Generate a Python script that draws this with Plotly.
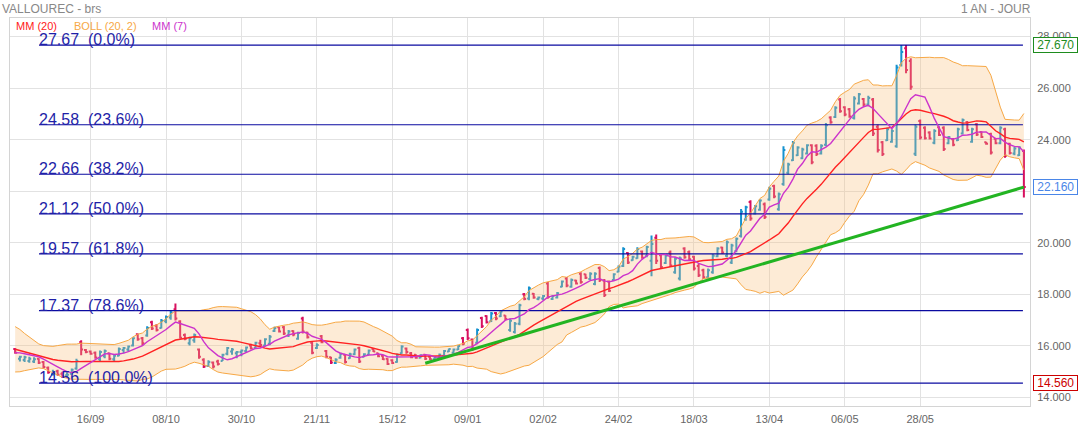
import pandas as pd
import plotly.graph_objects as go

# ---- data ----
prior_close = [16.60, 16.70, 16.55, 16.45, 16.30, 16.10, 16.00, 15.80, 15.50, 15.30,
               15.20, 15.35, 15.40, 15.60, 15.80, 15.75, 15.60, 15.80, 15.85]

open_ = [15.88, 15.50, 15.45, 15.42, 15.40, 15.50, 15.38, 15.15, 14.90, 15.02,
         14.92, 14.86, 14.92, 15.12, 16.15, 15.84, 15.78, 15.74, 15.48, 15.60,
         15.72, 15.48, 15.62, 15.84, 15.86, 16.02, 16.45, 16.30, 16.40, 16.92,
         16.78, 16.70, 16.96, 17.10, 17.42, 16.95, 16.42, 16.10, 16.22, 15.86,
         15.46, 15.22, 15.36, 15.40, 15.42, 15.70, 15.78, 15.72, 15.76, 15.80,
         16.02, 15.92, 16.10, 16.02, 16.08, 16.58, 16.72, 16.72, 16.40, 16.58,
         16.28, 17.06, 16.52, 16.12, 15.92, 16.38, 15.80, 15.56, 15.34, 15.54,
         15.66, 15.52, 15.68, 15.92, 15.58, 15.66, 15.88, 15.72, 15.62, 15.50,
         15.44, 15.38, 15.72, 15.90, 15.72, 15.66, 15.54, 15.66, 15.58, 15.48,
         15.56, 15.62, 15.78, 15.74, 15.86, 16.30, 16.62, 16.25, 16.12, 17.08,
         17.16, 16.96, 17.28, 17.15, 17.18, 16.62, 16.54, 16.86, 18.00, 17.84,
         18.02, 17.82, 17.84, 18.42, 17.82, 17.88, 18.30, 18.62, 18.30, 18.54,
         18.80, 18.78, 18.60, 18.40, 19.02, 18.54, 18.50, 18.56, 18.88, 19.10,
         19.60, 19.32, 19.40, 19.66, 19.48, 19.30, 20.20, 19.52, 19.22, 19.62,
         18.86, 18.62, 19.78, 19.64, 19.46, 19.10, 18.94, 18.66, 18.86, 19.48,
         19.82, 19.50, 19.24, 19.68, 20.26, 20.90, 21.58, 21.14, 21.28, 21.50,
         21.68, 22.20, 21.30, 22.28, 22.72, 23.20, 23.40, 23.28, 23.46, 23.78,
         23.76, 23.46, 23.80, 24.86, 24.88, 25.56, 25.26, 25.18, 24.84, 25.40,
         25.58, 25.36, 25.56, 24.50, 23.90, 23.98, 23.92, 23.75, 26.90, 27.55,
         27.05, 23.45, 24.72, 24.46, 24.28, 23.88, 24.48, 24.46, 23.86, 24.02,
         23.98, 24.24, 24.68, 23.92, 24.60, 24.30, 23.90, 24.22, 24.04, 23.86,
         24.40, 23.84, 23.46, 23.40, 23.56]

high = [15.92, 15.62, 15.62, 15.58, 15.56, 15.52, 15.42, 15.20, 15.08, 15.08,
        15.00, 14.98, 15.12, 15.50, 16.22, 15.88, 15.82, 15.78, 15.82, 15.86,
        15.74, 15.68, 15.94, 15.96, 16.02, 16.34, 16.48, 16.35, 16.76, 16.98,
        16.84, 17.04, 17.18, 17.38, 17.65, 17.00, 16.48, 16.36, 16.48, 15.90,
        15.52, 15.44, 15.40, 15.46, 15.70, 15.96, 15.92, 15.80, 15.86, 15.98,
        16.08, 16.16, 16.24, 16.30, 16.42, 16.74, 16.74, 16.77, 16.62, 16.61,
        16.55, 17.13, 16.55, 16.16, 16.10, 16.42, 15.84, 15.58, 15.52, 15.74,
        15.68, 15.74, 15.90, 15.97, 15.72, 15.86, 15.90, 15.74, 15.65, 15.52,
        15.48, 15.71, 16.03, 15.94, 15.76, 15.68, 15.68, 15.68, 15.60, 15.60,
        15.71, 15.84, 15.90, 15.90, 16.03, 16.35, 16.68, 16.29, 16.68, 17.13,
        17.19, 17.32, 17.32, 17.38, 17.19, 17.06, 16.93, 17.64, 18.05, 18.31,
        18.05, 17.92, 17.98, 18.48, 17.98, 18.09, 18.54, 18.67, 18.62, 18.57,
        18.86, 18.80, 18.86, 18.86, 19.08, 18.60, 18.54, 18.82, 19.12, 19.83,
        19.63, 19.50, 19.83, 19.70, 19.89, 20.28, 20.32, 19.57, 19.57, 19.70,
        19.44, 19.47, 19.83, 19.70, 19.50, 19.18, 18.99, 19.00, 19.57, 19.83,
        19.85, 20.09, 19.96, 20.21, 21.31, 21.44, 21.65, 21.47, 21.69, 21.56,
        22.17, 22.25, 21.95, 23.75, 23.11, 23.95, 23.75, 23.69, 23.82, 23.82,
        23.82, 23.82, 24.65, 24.91, 25.30, 25.62, 25.30, 25.23, 25.68, 25.81,
        25.62, 25.70, 25.62, 24.59, 23.95, 24.46, 24.40, 26.91, 27.67, 27.67,
        27.16, 24.59, 24.78, 24.52, 24.33, 24.40, 24.52, 24.52, 24.14, 24.07,
        24.46, 24.82, 24.72, 24.46, 24.65, 24.33, 23.92, 24.27, 24.07, 24.52,
        24.46, 23.88, 23.72, 23.75, 23.62]

low = [15.70, 15.40, 15.38, 15.35, 15.34, 15.30, 15.12, 14.92, 14.85, 14.84,
       14.76, 14.78, 14.90, 15.08, 15.64, 15.72, 15.66, 15.50, 15.40, 15.52,
       15.44, 15.40, 15.60, 15.72, 15.78, 15.98, 16.20, 16.02, 16.36, 16.62,
       16.56, 16.68, 16.88, 17.02, 16.99, 16.28, 16.22, 16.02, 16.12, 15.50,
       15.14, 15.18, 15.12, 15.24, 15.42, 15.64, 15.66, 15.52, 15.60, 15.74,
       15.86, 15.88, 15.98, 15.98, 16.03, 16.54, 16.52, 16.42, 16.35, 16.38,
       16.24, 16.48, 16.29, 15.68, 15.88, 16.10, 15.52, 15.30, 15.30, 15.50,
       15.32, 15.50, 15.64, 15.34, 15.56, 15.64, 15.76, 15.56, 15.45, 15.26,
       15.30, 15.35, 15.70, 15.70, 15.52, 15.50, 15.52, 15.45, 15.45, 15.45,
       15.54, 15.60, 15.76, 15.70, 15.84, 16.03, 16.23, 15.80, 16.07, 16.70,
       16.87, 16.93, 17.00, 17.12, 17.00, 16.55, 16.48, 16.80, 17.77, 17.77,
       17.83, 17.77, 17.77, 17.83, 17.78, 17.84, 18.28, 18.28, 18.26, 18.38,
       18.41, 18.60, 18.56, 18.35, 18.48, 17.90, 18.09, 18.54, 18.86, 19.06,
       19.18, 19.30, 19.38, 19.38, 19.44, 18.70, 19.18, 18.99, 19.18, 19.06,
       18.80, 18.54, 19.38, 19.31, 18.93, 18.67, 18.60, 18.62, 18.80, 19.44,
       19.57, 19.44, 19.18, 19.63, 20.21, 20.86, 20.86, 21.10, 21.24, 20.92,
       21.63, 21.73, 21.24, 22.21, 22.66, 23.17, 23.37, 23.24, 23.43, 23.05,
       23.37, 23.43, 23.75, 24.62, 24.84, 25.04, 24.91, 24.85, 24.78, 25.36,
       25.30, 25.30, 24.14, 23.50, 23.37, 23.95, 23.88, 23.69, 26.84, 26.58,
       25.94, 23.37, 24.01, 24.01, 24.01, 23.82, 24.14, 23.56, 23.82, 23.75,
       23.95, 24.20, 24.33, 23.88, 24.14, 24.07, 23.80, 23.43, 23.82, 23.82,
       23.30, 23.43, 23.40, 23.37, 21.76]

close = [15.74, 15.58, 15.56, 15.50, 15.48, 15.35, 15.18, 14.98, 14.95, 14.88,
         14.82, 14.88, 15.08, 15.42, 15.86, 15.76, 15.70, 15.55, 15.76, 15.80,
         15.50, 15.62, 15.88, 15.92, 15.98, 16.30, 16.26, 16.10, 16.70, 16.68,
         16.62, 16.98, 17.12, 17.30, 17.06, 16.32, 16.28, 16.30, 16.42, 15.58,
         15.20, 15.38, 15.20, 15.30, 15.66, 15.92, 15.86, 15.76, 15.82, 15.94,
         15.90, 16.12, 16.04, 16.26, 16.36, 16.70, 16.56, 16.48, 16.56, 16.44,
         16.50, 16.56, 16.34, 15.74, 16.04, 16.14, 15.58, 15.36, 15.46, 15.70,
         15.38, 15.68, 15.86, 15.40, 15.68, 15.82, 15.78, 15.60, 15.48, 15.30,
         15.34, 15.66, 15.98, 15.76, 15.56, 15.54, 15.64, 15.50, 15.48, 15.56,
         15.66, 15.80, 15.88, 15.86, 16.00, 16.08, 16.30, 15.90, 16.62, 16.76,
         16.92, 17.26, 17.06, 17.34, 17.04, 16.98, 16.86, 17.58, 17.82, 18.24,
         17.88, 17.88, 17.94, 17.90, 17.94, 18.04, 18.50, 18.34, 18.56, 18.42,
         18.48, 18.64, 18.80, 18.80, 18.56, 17.98, 18.14, 18.78, 19.08, 19.76,
         19.24, 19.46, 19.76, 19.42, 19.84, 19.95, 19.30, 19.06, 19.50, 19.12,
         19.38, 19.40, 19.44, 19.36, 19.00, 18.74, 18.66, 18.94, 19.50, 19.78,
         19.62, 20.02, 19.90, 20.16, 21.20, 21.38, 20.94, 21.42, 21.64, 21.00,
         22.10, 21.80, 21.88, 23.60, 23.04, 23.88, 23.70, 23.62, 23.78, 23.12,
         23.44, 23.76, 24.56, 24.68, 25.24, 25.10, 24.98, 24.90, 25.60, 25.76,
         25.36, 25.62, 24.24, 23.60, 23.44, 24.40, 24.34, 26.80, 27.40, 26.70,
         26.05, 24.50, 24.08, 24.06, 24.05, 24.34, 24.18, 23.64, 24.10, 23.80,
         24.40, 24.76, 24.38, 24.40, 24.20, 24.10, 23.84, 23.50, 23.86, 24.46,
         23.38, 23.48, 23.66, 23.70, 22.16]

tick_index = [16, 32, 48, 64, 80, 96, 112, 128, 144, 160, 176, 192]
tick_labels = ["16/09", "08/10", "30/10", "21/11", "15/12", "09/01",
               "02/02", "24/02", "18/03", "13/04", "06/05", "28/05"]
y_ticks = [14, 16, 18, 20, 22, 24, 26, 28]

fib_levels = [27.67, 24.58, 22.66, 21.12, 19.57, 17.37, 14.56]
fib_pcts = ["0.0%", "23.6%", "38.2%", "50.0%", "61.8%", "78.6%", "100.0%"]
fib_span = [5.05, 213.8]

trend_x = [87, 214]
trend_y = [15.33, 22.16]

price_boxes = [27.67, 22.16, 14.56]
price_box_colors = ["#1e8c1e", "#4a86e8", "#cc0000"]

# ---- indicators ----
idx = list(range(len(close)))
k = len(prior_close)
s = pd.Series(prior_close + close)
m20 = s.rolling(20).mean()
sd20 = s.rolling(20).std(ddof=0)
mm20 = m20.iloc[k:].tolist()
boll_up = (m20 + 2 * sd20).iloc[k:].tolist()
boll_dn = (m20 - 2 * sd20).iloc[k:].tolist()
mm7 = s.rolling(7).mean().iloc[k:].tolist()

FONT = "Liberation Sans, Arial, sans-serif"

fig = go.Figure()
fig.add_trace(go.Scatter(x=idx, y=boll_dn, mode="lines",
                         line=dict(color="#f7a845", width=1), hoverinfo="skip"))
fig.add_trace(go.Scatter(x=idx, y=boll_up, mode="lines",
                         line=dict(color="#f7a845", width=1), fill="tonexty",
                         fillcolor="rgba(250,190,120,0.30)", hoverinfo="skip"))
for lv in fib_levels:
    fig.add_trace(go.Scatter(x=fib_span, y=[lv, lv], mode="lines",
                             line=dict(color="#0a0aa0", width=1.2), hoverinfo="skip"))
fig.add_trace(go.Scatter(x=idx, y=mm20, mode="lines",
                         line=dict(color="#ff2222", width=1.4)))
fig.add_trace(go.Scatter(x=idx, y=mm7, mode="lines",
                         line=dict(color="#cc33cc", width=1.4)))
fig.add_trace(go.Ohlc(x=idx, open=open_, high=high, low=low, close=close,
                      increasing=dict(line=dict(color="#1592cf", width=2)),
                      decreasing=dict(line=dict(color="#d8105f", width=2)),
                      tickwidth=0.4))
fig.add_trace(go.Scatter(x=trend_x, y=trend_y, mode="lines",
                         line=dict(color="#22b422", width=3)))

ann = []
ann.append(dict(text="VALLOUREC - brs", xref="paper", yref="paper", x=0, y=1,
                xanchor="left", yanchor="bottom", xshift=-10, yshift=0,
                showarrow=False, font=dict(family=FONT, size=12, color="#888888")))
ann.append(dict(text="1 AN - JOUR", xref="paper", yref="paper", x=1, y=1,
                xanchor="right", yanchor="bottom", xshift=3, yshift=0,
                showarrow=False, font=dict(family=FONT, size=12, color="#888888")))
for txt, col, xs in [("MM (20)", "#ff1a1a", 4), ("BOLL (20, 2)", "#f7a845", 62),
                     ("MM (7)", "#cc33cc", 140)]:
    ann.append(dict(text=txt, xref="paper", yref="paper", x=0, y=1,
                    xanchor="left", yanchor="top", xshift=xs, yshift=0,
                    showarrow=False, font=dict(family=FONT, size=11, color=col)))
for lv, pc in zip(fib_levels, fib_pcts):
    ann.append(dict(text=f"{lv:.2f}  ({pc})", xref="x", yref="y", x=fib_span[0], y=lv,
                    xanchor="left", yanchor="bottom", xshift=-2, yshift=-5,
                    showarrow=False,
                    font=dict(family=FONT, size=16, color="#1f1fa8")))
for v, c in zip(price_boxes, price_box_colors):
    ann.append(dict(text="\u00a0" + f"{v:.3f}" + "\u00a0", xref="paper", yref="y",
                    x=1, y=v, xanchor="left", yanchor="middle", xshift=3,
                    showarrow=False, bgcolor="white", bordercolor=c, borderwidth=1,
                    borderpad=0, font=dict(family=FONT, size=12, color=c)))

fig.update_layout(
    width=1079, height=427,
    margin=dict(l=10, r=49, t=18, b=21, autoexpand=False),
    paper_bgcolor="white", plot_bgcolor="white",
    showlegend=False,
    annotations=ann,
    font=dict(family=FONT),
    xaxis=dict(range=[-1.1, 215.3], tickmode="array", tickvals=tick_index,
               ticktext=tick_labels, showgrid=True, gridcolor="#e2e2e2", gridwidth=1,
               zeroline=False, showline=True, linecolor="#d4d4d4", mirror=True,
               ticks="", ticklabelstandoff=3, automargin=False,
               rangeslider=dict(visible=False),
               tickfont=dict(family=FONT, size=11, color="#666666")),
    yaxis=dict(range=[13.67, 28.72], side="right", tickmode="array", tickvals=y_ticks,
               ticktext=[f"{v:.3f}" for v in y_ticks], showgrid=True,
               gridcolor="#e2e2e2", gridwidth=1, zeroline=False, showline=True,
               linecolor="#d4d4d4", mirror=True, ticks="", ticklabelstandoff=4,
               automargin=False,
               tickfont=dict(family=FONT, size=11, color="#666666")),
)

fig.write_html("out.html")
